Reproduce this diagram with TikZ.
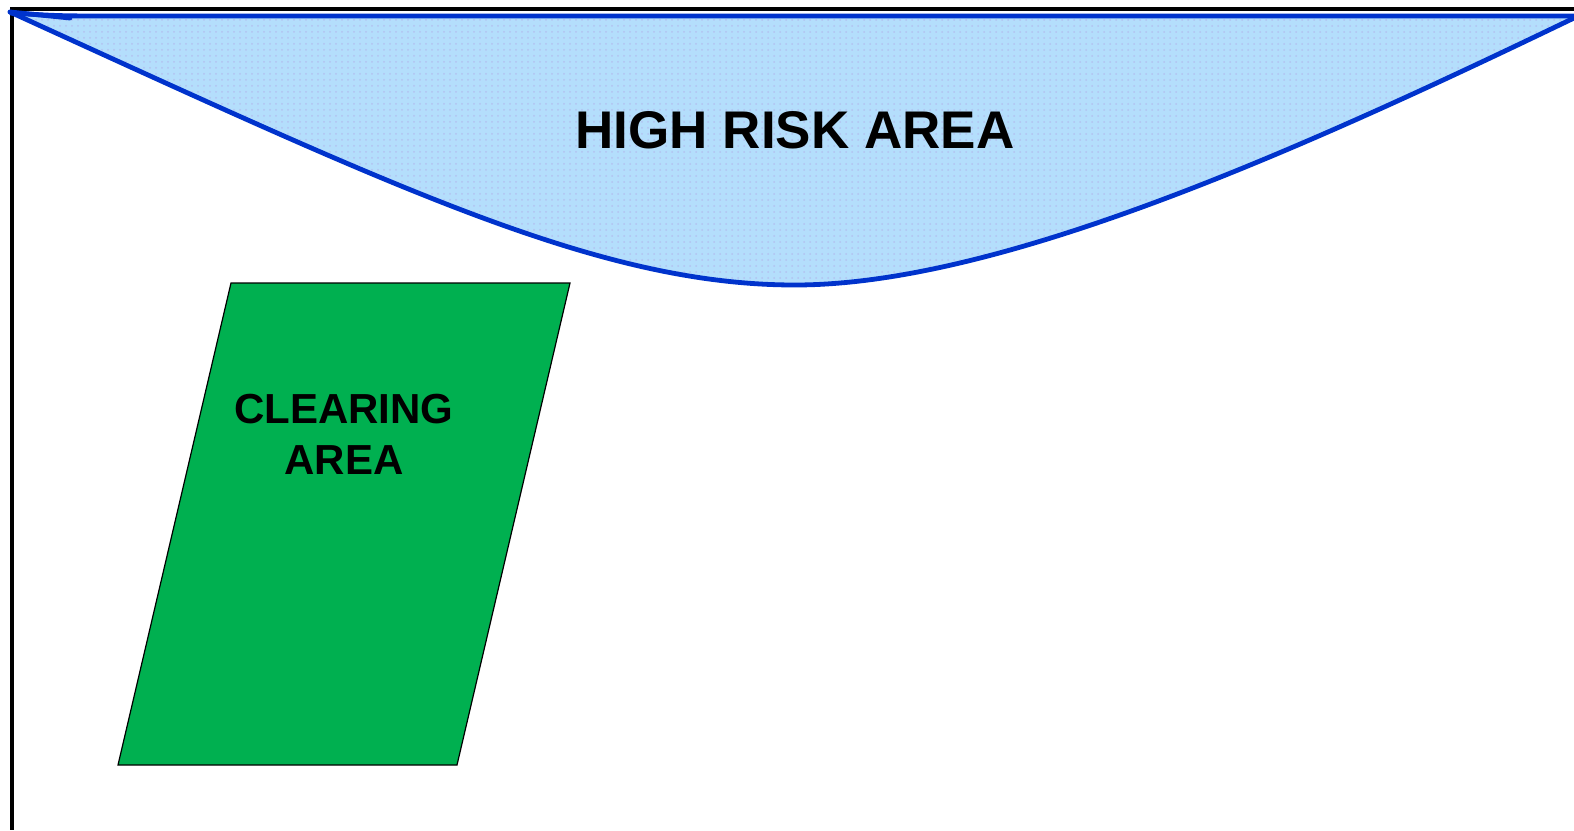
\documentclass[tikz,border=0pt]{standalone}
\usepackage{fontspec}
\setmainfont{Liberation Sans}
\usetikzlibrary{patterns}
\definecolor{riskblue}{RGB}{0,51,204}
\definecolor{riskfill}{RGB}{180,222,252}
\definecolor{cleargreen}{RGB}{0,176,80}
\tikzset{
  frameline/.style={line width=1.6pt, black},
  riskline/.style={line width=2.4pt, riskblue},
  zonelabel/.style={font=\bfseries, text=black, align=center, inner sep=0pt}
}
\begin{document}
\begin{tikzpicture}[x=0.5pt,y=-0.5pt]
\useasboundingbox (0,0) rectangle (1574,830);
% frame lines
\draw[frameline] (10,9) -- (1574,9);
\draw[frameline] (12,8) -- (12,830);
% high risk area
\path[fill=riskfill] (10,14) -- (1574,16) -- (1574,20)
  .. controls (1300,150) and (1000,285) .. (795,285)
  .. controls (600,285) and (400,190) .. (10,12) -- cycle;
\path[pattern=dots, pattern color=riskblue!30] (10,14) -- (1574,16) -- (1574,20)
  .. controls (1300,150) and (1000,285) .. (795,285)
  .. controls (600,285) and (400,190) .. (10,12) -- cycle;
\draw[riskline, line cap=round] (10,12) .. controls (400,190) and (600,285) .. (795,285)
  .. controls (1000,285) and (1300,150) .. (1574,18);
\draw[riskline, line cap=round] (10,12) -- (70,18);
\draw[riskline] (10,13) .. controls (60,16) .. (120,16) -- (1574,16);
\node[zonelabel, font=\fontsize{26.5}{30}\selectfont\bfseries] (risk) at (795,130) {HIGH RISK AREA};
% clearing area
\draw[fill=cleargreen, draw=black, line width=0.6pt] (231,283) -- (570,283) -- (457,765) -- (118,765) -- cycle;
\node[zonelabel, font=\fontsize{21}{25.5}\selectfont\bfseries] (clear) at (344,434) {CLEARING\\AREA};
\end{tikzpicture}
\end{document}
